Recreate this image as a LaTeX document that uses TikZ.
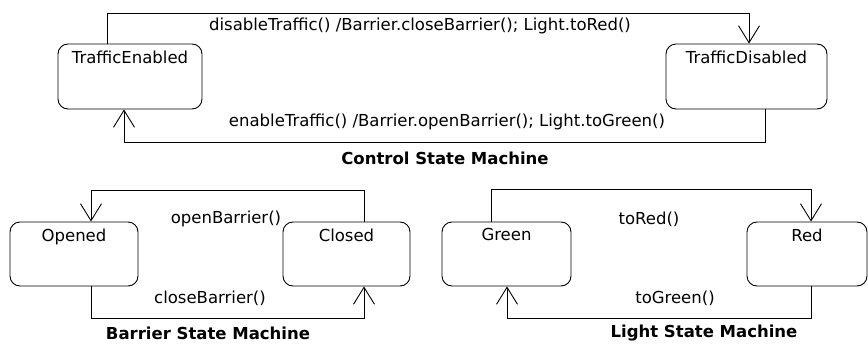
\documentclass[tikz,border=0pt]{standalone}
\usepackage{fontspec}
\setmainfont{DejaVu Sans}
\usetikzlibrary{arrows.meta}
\tikzset{state/.style={draw,rounded corners=10pt,line width=0.9pt,inner sep=0pt},
	 trans/.style={draw,line width=0.9pt,-{Straight Barb[length=17pt,width=21pt,line width=0.9pt]}},
	 lbl/.style={inner sep=0pt,font=\fontsize{16.5}{18}\selectfont},
	 title/.style={inner sep=0pt,font=\fontsize{16.5}{18}\selectfont\bfseries}
	 }

\begin{document}
\begin{tikzpicture}[x=1pt,y=-1pt]
	\useasboundingbox (0,0) rectangle (868,343);
	% control state machine
	\node[state,minimum width=144pt,minimum height=65pt] (en) at (130,76.5) [label={[lbl,anchor=north,yshift=-7pt]90:TrafficEnabled}] {};
	\node[state,minimum width=161pt,minimum height=65pt] (dis) at (746.5,76.5) [label={[lbl,anchor=north,yshift=-7pt]90:TrafficDisabled}] {};
	\draw[trans] ([xshift=-23pt]en.north) -- ++(0,-30) -| ([xshift=2.5pt]dis.north);
	\draw[trans] ([xshift=18.5pt]dis.south) -- ++(0,33) -| ([xshift=-6pt]en.south);
	\node[lbl] (ctop) at (420,26) {disableTraffic() /Barrier.closeBarrier(); Light.toRed()};
	\node[lbl] (cbot) at (447,122) {enableTraffic() /Barrier.openBarrier(); Light.toGreen()};
	\node[title] (ctitle) at (445,158) {Control State Machine};
	% barrier state machine
	\node[state,minimum width=128pt,minimum height=64pt] (op) at (74,254) [label={[lbl,anchor=north,yshift=-7pt]90:Opened}] {};
	\node[state,minimum width=127pt,minimum height=64pt] (cl) at (346.5,254) [label={[lbl,anchor=north,yshift=-7pt]90:Closed}] {};
	\draw[trans] ([xshift=17.5pt]cl.north) -- ++(0,-31) -| ([xshift=17pt]op.north);
	\draw[trans] ([xshift=17pt]op.south) -- ++(0,32) -| ([xshift=17.5pt]cl.south);
	\node[lbl] (btop) at (226,219) {openBarrier()};
	\node[lbl] (bbot) at (210,298) {closeBarrier()};
	\node[title] (btitle) at (208,333) {Barrier State Machine};
	% light state machine
	\node[state,minimum width=129pt,minimum height=64pt] (gr) at (506.5,254) [label={[lbl,anchor=north,yshift=-7pt]90:Green}] {};
	\node[state,minimum width=120pt,minimum height=64pt] (rd) at (807,254) [label={[lbl,anchor=north,yshift=-7pt]90:Red}] {};
	\draw[trans] ([xshift=-15.5pt]gr.north) -- ++(0,-32) -| ([xshift=4pt]rd.north);
	\draw[trans] ([xshift=4pt]rd.south) -- ++(0,32) -| ([xshift=0.5pt]gr.south);
	\node[lbl] (ltop) at (649,219) {toRed()};
	\node[lbl] (lbot) at (675,298) {toGreen()};
	\node[title] (ltitle) at (704,333) {Light State Machine};
\end{tikzpicture}
\end{document}
